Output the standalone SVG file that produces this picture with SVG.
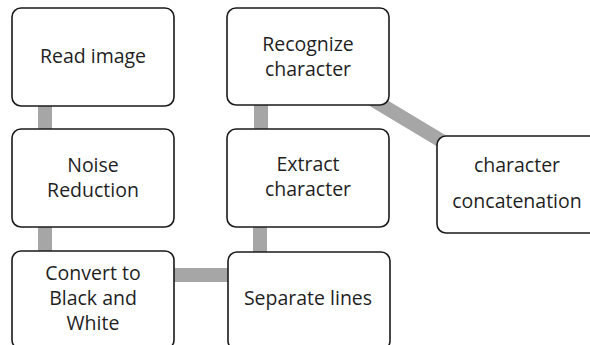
<svg xmlns="http://www.w3.org/2000/svg" width="590" height="345" viewBox="0 0 590 345">
<style>
.box{fill:#fff;stroke:#1a1a1a;stroke-width:1.6}
.conn{stroke:#a6a6a6;stroke-width:14;fill:none}
text{font-family:"Open Sans","Noto Sans","DejaVu Sans",sans-serif;font-size:19.5px;fill:#1f1f1f;text-anchor:middle}
</style>
<rect width="590" height="345" fill="#fff"/>
<g id="connectors">
<line class="conn" x1="45" y1="100" x2="45" y2="135"/>
<line class="conn" x1="45" y1="220" x2="45" y2="257"/>
<line class="conn" x1="168" y1="275" x2="234" y2="275"/>
<line class="conn" x1="260" y1="220" x2="260" y2="257"/>
<line class="conn" x1="261" y1="100" x2="261" y2="135"/>
<line class="conn" x1="340" y1="80" x2="480" y2="164"/>
</g>
<g id="read-image">
<rect class="box" x="12" y="8" width="162" height="98" rx="9"/>
<text x="93" y="63">Read image</text>
</g>
<g id="noise-reduction">
<rect class="box" x="12" y="129" width="162" height="98" rx="9"/>
<text x="93" y="172">Noise</text>
<text x="93" y="197">Reduction</text>
</g>
<g id="convert">
<rect class="box" x="12" y="251" width="162" height="98" rx="9"/>
<text x="93" y="280">Convert to</text>
<text x="93" y="305">Black and</text>
<text x="93" y="330">White</text>
</g>
<g id="recognize">
<rect class="box" x="227" y="8" width="162" height="97" rx="9"/>
<text x="308" y="51">Recognize</text>
<text x="308" y="76">character</text>
</g>
<g id="extract">
<rect class="box" x="227" y="129" width="162" height="98" rx="9"/>
<text x="308" y="171">Extract</text>
<text x="308" y="196">character</text>
</g>
<g id="separate">
<rect class="box" x="228" y="252" width="162" height="98" rx="9"/>
<text x="308" y="305">Separate lines</text>
</g>
<g id="concatenation">
<rect class="box" x="437" y="136" width="162" height="97" rx="9"/>
<text x="517" y="172">character</text>
<text x="517" y="208">concatenation</text>
</g>
</svg>
